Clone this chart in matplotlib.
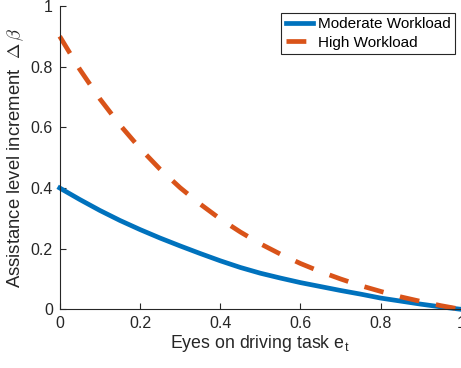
import matplotlib
matplotlib.use("Agg")
import matplotlib.pyplot as plt

plt.rcParams["font.family"] = ["Liberation Sans", "DejaVu Sans"]
plt.rcParams["mathtext.fontset"] = "cm"

# eyes-on-task fraction e_t
eyes = [0.00, 0.05, 0.10, 0.15, 0.20, 0.25, 0.30, 0.35, 0.40, 0.45, 0.50,
        0.55, 0.60, 0.65, 0.70, 0.75, 0.80, 0.85, 0.90, 0.95, 1.00]
moderate = [0.400, 0.362, 0.326, 0.293, 0.263, 0.235, 0.209, 0.184, 0.160, 0.138, 0.119,
            0.103, 0.088, 0.075, 0.062, 0.050, 0.037, 0.027, 0.017, 0.008, 0.000]
high = [0.900, 0.791, 0.694, 0.608, 0.531, 0.462, 0.401, 0.347, 0.298, 0.255, 0.216,
        0.182, 0.151, 0.124, 0.100, 0.078, 0.059, 0.041, 0.026, 0.012, 0.000]

axis_col = "#262626"

fig = plt.figure(figsize=(4.61, 3.68), dpi=100)
ax = fig.add_axes([0.1295, 0.1595, 0.8705, 0.8242])

ax.plot(eyes, moderate, color="#0072BD", lw=3.4, label="Moderate Workload", clip_on=False)
ax.plot(eyes, high, color="#D95319", lw=3.4, ls=(0, (4.2, 3.6)), dash_capstyle="butt",
        label="High Workload", clip_on=False)

ax.set_xlim(0, 1)
ax.set_ylim(0, 1)
ax.set_xticks([0, 0.2, 0.4, 0.6, 0.8, 1])
ax.set_xticklabels(["0", "0.2", "0.4", "0.6", "0.8", "1"])
ax.set_yticks([0, 0.2, 0.4, 0.6, 0.8, 1])
ax.set_yticklabels(["0", "0.2", "0.4", "0.6", "0.8", "1"])

for s in ["top", "right"]:
    ax.spines[s].set_visible(False)
for s in ["left", "bottom"]:
    ax.spines[s].set_color(axis_col)
    ax.spines[s].set_linewidth(0.8)
ax.tick_params(direction="in", length=4, width=0.8, color=axis_col,
               labelcolor=axis_col, labelsize=11.5, pad=5)

ax.set_xlabel(r"Eyes on driving task e$_{\mathregular{t}}$", fontsize=12.8, color=axis_col, labelpad=1)
ax.set_ylabel(r"Assistance level increment  $\Delta\,\beta$", fontsize=13.3, color=axis_col, labelpad=3)

leg = ax.legend(loc="upper right", bbox_to_anchor=(0.985, 0.978), fontsize=11, fancybox=False,
                framealpha=1, edgecolor=axis_col, handlelength=1.8, handletextpad=0.3,
                borderpad=0.3, labelspacing=0.3, borderaxespad=0)
leg.get_frame().set_linewidth(0.8)
for t in leg.get_texts():
    t.set_color("black")

fig.savefig("out.png", dpi=100)
